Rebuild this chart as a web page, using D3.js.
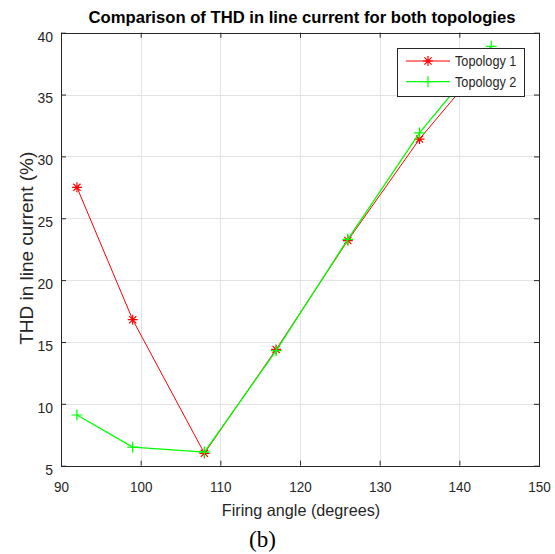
<!DOCTYPE html>
<html>
<head>
<meta charset="utf-8">
<script src="https://cdn.jsdelivr.net/npm/d3@7"></script>
<style>
  body { margin: 0; background: #fff; }
  text { font-family: "Liberation Sans", Arial, sans-serif; }
</style>
</head>
<body>
<div id="chart"></div>
<script>
// firing angles (degrees)
var angles = [92, 99, 108, 117, 126, 135, 144]
// THD in line current (%)
var topology1 = [27.5, 16.8, 6.0, 14.4, 23.2, 31.4, 38.3]
var topology2 = [9.1, 6.5, 6.1, 14.3, 23.3, 31.9, 38.9]
var seriesNames = ["Topology 1", "Topology 2"]
var xTickVals = [90, 100, 110, 120, 130, 140, 150]
var yTickVals = [5, 10, 15, 20, 25, 30, 35, 40]

var w = 555, h = 554
var plotLeft = 61, plotRight = 539, plotTop = 32.7, plotBottom = 465.7
var ink = "#262626"

var svg = d3.select("#chart").append("svg").attr("width", w).attr("height", h)

var x = d3.scaleLinear().domain([90, 150]).range([plotLeft, plotRight])
var y = d3.scaleLinear().domain([5, 40]).range([plotBottom, plotTop])

// grid
svg.append("g").selectAll("line")
  .data(xTickVals.slice(1, -1)).enter().append("line")
  .attr("x1", function (d) { return Math.round(x(d)) + 0.5 })
  .attr("x2", function (d) { return Math.round(x(d)) + 0.5 })
  .attr("y1", plotTop).attr("y2", plotBottom)
  .attr("stroke", "#e3e3e3").attr("stroke-width", 1)
svg.append("g").selectAll("line")
  .data(yTickVals.slice(1, -1)).enter().append("line")
  .attr("y1", function (d) { return Math.round(y(d)) + 0.5 })
  .attr("y2", function (d) { return Math.round(y(d)) + 0.5 })
  .attr("x1", plotLeft).attr("x2", plotRight)
  .attr("stroke", "#e3e3e3").attr("stroke-width", 1)

// axes, ticks pointing inward
var xAxis = svg.append("g").attr("transform", "translate(0," + plotBottom + ")")
  .call(d3.axisBottom(x).tickValues(xTickVals).tickSizeInner(-5).tickSizeOuter(0))
var xTop = svg.append("g").attr("transform", "translate(0," + plotTop + ")")
  .call(d3.axisTop(x).tickValues(xTickVals).tickSizeInner(-5).tickSizeOuter(0).tickFormat(""))
var yAxis = svg.append("g").attr("transform", "translate(" + plotLeft + ",0)")
  .call(d3.axisLeft(y).tickValues(yTickVals).tickSizeInner(-5).tickSizeOuter(0))
var yRight = svg.append("g").attr("transform", "translate(" + plotRight + ",0)")
  .call(d3.axisRight(y).tickValues(yTickVals).tickSizeInner(-5).tickSizeOuter(0).tickFormat(""))

;[xAxis, xTop, yAxis, yRight].forEach(function (a) {
  a.select(".domain").remove()
  a.selectAll("line").attr("stroke", ink)
})

xAxis.selectAll("text")
  .attr("y", null).attr("dy", null)
  .attr("transform", "translate(0,26) scale(1,1.08)")
  .attr("font-size", "13.5px").attr("fill", ink)
  .attr("font-family", "'Liberation Sans', Arial, sans-serif")
yAxis.selectAll("text")
  .attr("x", null).attr("dy", null)
  .attr("transform", "translate(-8,8.3) scale(1,1.08)")
  .attr("font-size", "14px").attr("fill", ink)
  .attr("font-family", "'Liberation Sans', Arial, sans-serif")

// frame
svg.append("rect")
  .attr("x", plotLeft + 0.5).attr("y", Math.round(plotTop) + 0.5)
  .attr("width", plotRight - plotLeft).attr("height", Math.round(plotBottom) - Math.round(plotTop))
  .attr("fill", "none").attr("stroke", ink).attr("stroke-width", 1)

// series
var starPath = "M-5,0H5M0,-5V5M-3.6,-3.6L3.6,3.6M-3.6,3.6L3.6,-3.6"
var plusPath = "M-5.5,0H5.5M0,-5.5V5.5"
var series = [
  { name: seriesNames[0], values: topology1, color: "#ff0000", marker: starPath, width: 1 },
  { name: seriesNames[1], values: topology2, color: "#00ff00", marker: plusPath, width: 1.3 }
]

var line = d3.line()
  .x(function (d) { return x(d[0]) })
  .y(function (d) { return y(d[1]) })

series.forEach(function (s) {
  var pts = angles.map(function (a, i) { return [a, s.values[i]] })
  svg.append("path").datum(pts)
    .attr("d", line)
    .attr("fill", "none").attr("stroke", s.color).attr("stroke-width", s.width)
  svg.append("g").selectAll("path")
    .data(pts).enter().append("path")
    .attr("transform", function (d) { return "translate(" + x(d[0]) + "," + y(d[1]) + ")" })
    .attr("d", s.marker)
    .attr("fill", "none").attr("stroke", s.color).attr("stroke-width", 1.2)
})

// legend
var legend = svg.append("g")
legend.append("rect")
  .attr("x", 397.5).attr("y", 48.5).attr("width", 127).attr("height", 48)
  .attr("fill", "#fff").attr("stroke", ink).attr("stroke-width", 1)
var rows = legend.selectAll("g.row").data(series).enter().append("g")
  .attr("class", "row")
  .attr("transform", function (d, i) { return "translate(0," + (61 + i * 20.7) + ")" })
rows.append("line")
  .attr("x1", 406).attr("x2", 450).attr("y1", 0).attr("y2", 0)
  .attr("stroke", function (d) { return d.color }).attr("stroke-width", function (d) { return d.width })
rows.append("path")
  .attr("transform", "translate(428,0)")
  .attr("d", function (d) { return d.marker })
  .attr("fill", "none").attr("stroke", function (d) { return d.color }).attr("stroke-width", 1.2)
rows.append("text")
  .attr("transform", "translate(455,4.8) scale(1,1.12)")
  .attr("font-size", "12.7px").attr("fill", ink)
  .text(function (d) { return d.name })

// titles
svg.append("text")
  .attr("x", 302).attr("y", 22.7)
  .attr("text-anchor", "middle")
  .attr("font-size", "17px").attr("font-weight", "bold").attr("fill", "#000")
  .attr("textLength", 427).attr("lengthAdjust", "spacingAndGlyphs")
  .text("Comparison of THD in line current for both topologies")

svg.append("text")
  .attr("transform", "translate(301,515.7) scale(1,1.07)")
  .attr("text-anchor", "middle")
  .attr("font-size", "16.2px").attr("fill", ink)
  .text("Firing angle (degrees)")

svg.append("text")
  .attr("transform", "translate(32.5,248.3) rotate(-90)")
  .attr("text-anchor", "middle")
  .attr("font-size", "18.5px").attr("fill", ink)
  .attr("textLength", 193).attr("lengthAdjust", "spacingAndGlyphs")
  .text("THD in line current (%)")

svg.append("text")
  .attr("x", 262.5).attr("y", 546.7)
  .attr("text-anchor", "middle")
  .attr("font-size", "23px").attr("fill", "#000")
  .style("font-family", "'Liberation Serif', 'Times New Roman', serif")
  .text("(b)")
</script>
</body>
</html>
